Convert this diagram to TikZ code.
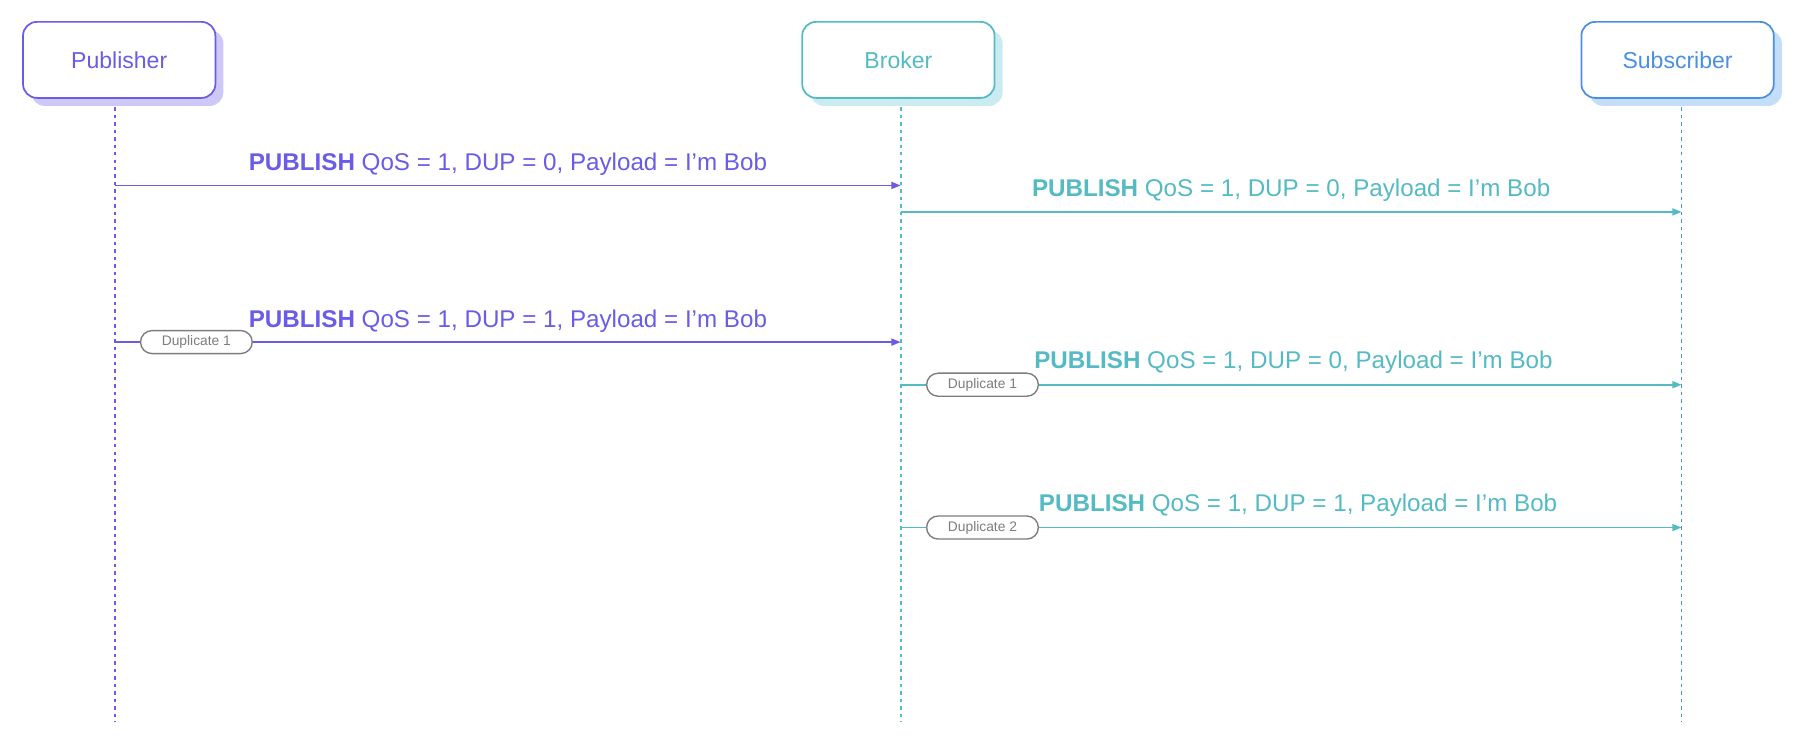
\documentclass[tikz,border=0pt]{standalone}
\usepackage{fontspec}
\setmainfont{Liberation Sans}
\usetikzlibrary{arrows.meta,shadows}
\definecolor{pubc}{RGB}{106,92,230}
\definecolor{pubsh}{RGB}{205,200,248}
\definecolor{brkc}{RGB}{84,186,196}
\definecolor{brksh}{RGB}{202,236,240}
\definecolor{subc}{RGB}{74,144,226}
\definecolor{subsh}{RGB}{196,221,248}
\definecolor{tagc}{RGB}{125,125,125}
\begin{document}
\begin{tikzpicture}[x=1pt,y=-1pt,
  actor/.style 2 args={draw=#1, line width=1.5pt, rounded corners=12pt, fill=white,
    minimum width=167pt, minimum height=66pt, inner sep=0pt, text=#1,
    font=\fontsize{20}{24}\selectfont,
    general shadow={fill=#2, shadow xshift=7pt, shadow yshift=-7pt}},
  life/.style={draw=#1, line width=1.4pt, dash pattern=on 3pt off 3.5pt},
  msg/.style={draw=#1, line width=1.5pt, -{Triangle[length=8pt,width=6pt]}},
  lab/.style={text=#1, anchor=base, inner sep=0pt, font=\fontsize{21}{25}\selectfont},
  tag/.style={draw=tagc, fill=white, line width=1.2pt, rounded corners=10pt,
    minimum width=97pt, minimum height=20pt, inner sep=0pt, text=tagc,
    font=\fontsize{12}{14}\selectfont}]
\useasboundingbox (0,0) rectangle (1568,653);
\fill[white] (0,0) rectangle (1568,653);

% actors
\node[actor={pubc}{pubsh}] (pub) at (103.5,52) {Publisher};
\node[actor={brkc}{brksh}] (brk) at (780,52) {Broker};
\node[actor={subc}{subsh}] (sub) at (1456.5,52) {Subscriber};

% lifelines
\coordinate (pubTop) at (100,93);  \coordinate (pubBot) at (100,627);
\coordinate (brkTop) at (782,93);  \coordinate (brkBot) at (782,627);
\coordinate (subTop) at (1460,93); \coordinate (subBot) at (1460,627);
\draw[life=pubc] (pubTop) -- (pubBot);
\draw[life=brkc] (brkTop) -- (brkBot);
\draw[life=subc] (subTop) -- (subBot);

% message points
\coordinate (p1) at (100,161); \coordinate (b1) at (782,161);
\coordinate (b2) at (782,184); \coordinate (s2) at (1460,184);
\coordinate (p3) at (100,297); \coordinate (b3) at (782,297);
\coordinate (b4) at (782,334); \coordinate (s4) at (1460,334);
\coordinate (b5) at (782,458); \coordinate (s5) at (1460,458);

\draw[msg=pubc] (p1) -- (b1);
\draw[msg=brkc] (b2) -- (s2);
\draw[msg=pubc] (p3) -- (b3);
\draw[msg=brkc] (b4) -- (s4);
\draw[msg=brkc] (b5) -- (s5);

% labels
\node[lab=pubc] (l1) at (441,148) {\textbf{PUBLISH} QoS = 1, DUP = 0, Payload = I’m Bob};
\node[lab=brkc] (l2) at (1121,171) {\textbf{PUBLISH} QoS = 1, DUP = 0, Payload = I’m Bob};
\node[lab=pubc] (l3) at (441,284) {\textbf{PUBLISH} QoS = 1, DUP = 1, Payload = I’m Bob};
\node[lab=brkc] (l4) at (1123,320) {\textbf{PUBLISH} QoS = 1, DUP = 0, Payload = I’m Bob};
\node[lab=brkc] (l5) at (1127,444) {\textbf{PUBLISH} QoS = 1, DUP = 1, Payload = I’m Bob};

% duplicate tags
\node[tag] (t1) at (170.5,297) {Duplicate 1};
\node[tag] (t2) at (853,334) {Duplicate 1};
\node[tag] (t3) at (853,458) {Duplicate 2};
\end{tikzpicture}
\end{document}
